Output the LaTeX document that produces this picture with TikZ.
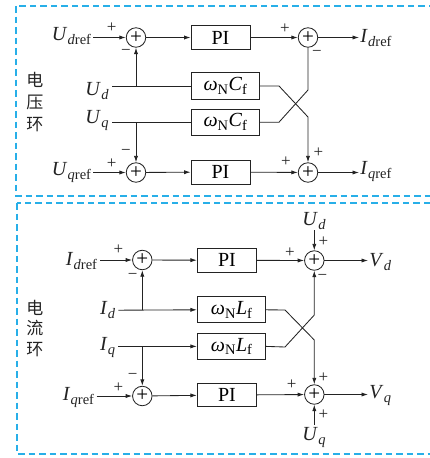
\documentclass[tikz,border=0pt]{standalone}
\usepackage{fontspec}
\setmainfont{Liberation Serif}
\newfontfamily\cjk{Noto Sans CJK SC}
\usetikzlibrary{arrows.meta}
\definecolor{framecol}{RGB}{40,175,232}
\definecolor{ink}{RGB}{35,35,35}
\newcommand\subsz{\fontsize{14.5}{14.5}\selectfont}
\newcommand\vsub[2]{\textit{#1}\kern0.3pt\raisebox{-0.45ex}{\subsz #2}}
\newcommand\wsub[2]{\textit{ω}\raisebox{-0.4ex}{\subsz N}\kern0.5pt\textit{#1}\raisebox{-0.4ex}{\subsz #2}}
\begin{document}
\begin{tikzpicture}[x=1pt,y=-1pt,
  >={Latex[length=6.5pt,width=4.2pt]},
  every path/.style={line width=0.85pt},
  conn/.style={draw=ink},
  sumnode/.style={circle,draw=ink,minimum size=19.5pt,inner sep=0pt,font=\fontsize{21}{21}\selectfont},
  blk/.style={draw=ink,rectangle,inner sep=0pt,font=\fontsize{20}{20}\selectfont},
  sgn/.style={inner sep=0pt,font=\fontsize{17}{17}\selectfont,text=ink},
  lbl/.style={inner sep=0pt,font=\fontsize{20}{20}\selectfont,text=ink},
  cjklbl/.style={inner sep=0pt,align=center,text=ink},
  frm/.style={draw=framecol,dash pattern=on 6.5pt off 4pt,line width=1.4pt}]
\useasboundingbox (0,0) rectangle (429,458);
% frames
\draw[frm] (16,6) rectangle (445,196);
\draw[frm] (17,203) rectangle (445,454);
% ===== voltage loop =====
\node[cjklbl,font=\cjk\fontsize{17}{22}\selectfont] (vl) at (35,102.5) {电\\压\\环};
\node[sumnode] (s1) at (136,37.5) {+};
\node[sumnode] (s2) at (308,37.5) {+};
\node[sumnode] (s3) at (136,172.5) {+};
\node[sumnode] (s4) at (308,172.5) {+};
\node[blk,minimum width=59pt,minimum height=24pt] (pi1) at (220.5,37.5) {PI};
\node[blk,minimum width=59pt,minimum height=24pt] (pi2) at (220.5,172) {PI};
\node[blk,minimum width=67.5pt,minimum height=26.5pt] (cf1) at (225.3,86) {\wsub{C}{f}};
\node[blk,minimum width=67.5pt,minimum height=26pt] (cf2) at (225.3,122.2) {\wsub{C}{f}};
\node[lbl,anchor=base east] (udref) at (91.5,40.5) {\vsub{U}{\textit{d}ref}};
\node[lbl,anchor=base east] (ud) at (109,95) {\vsub{U}{\textit{d}}};
\node[lbl,anchor=base east] (uq) at (109,123.5) {\vsub{U}{\textit{q}}};
\node[lbl,anchor=base east] (uqref) at (91.5,175.5) {\vsub{U}{\textit{q}ref}};
\node[lbl,anchor=base west] (idref) at (360,42.5) {\vsub{I}{\textit{d}ref}};
\node[lbl,anchor=base west] (iqref) at (360,174.5) {\vsub{I}{\textit{q}ref}};
\coordinate (udrefin) at (93,37.5);
\coordinate (udin) at (112,86);
\coordinate (uqin) at (112,122.2);
\coordinate (uqrefin) at (93,172.5);
\coordinate (ja) at (136,86);
\coordinate (jb) at (136,122.2);
\coordinate (idout) at (359,37.5);
\coordinate (iqout) at (359,172.5);
\coordinate (c1a) at (279,86);
\coordinate (c1b) at (308,117);
\coordinate (c2a) at (279,122.2);
\coordinate (c2b) at (308,90);
\draw[conn,->] (udrefin) -- (s1);
\draw[conn,->] (s1) -- (pi1);
\draw[conn,->] (pi1) -- (s2);
\draw[conn,->] (s2) -- (idout);
\draw[conn] (udin) -- (cf1.west);
\draw[conn,->] (ja) -- (s1.south);
\draw[conn] (uqin) -- (cf2.west);
\draw[conn,->] (jb) -- (s3.north);
\draw[conn,->] (uqrefin) -- (s3);
\draw[conn,->] (s3) -- (pi2);
\draw[conn,->] (pi2) -- (s4);
\draw[conn,->] (s4) -- (iqout);
\draw[conn,->] (cf1.east) -- (c1a) -- (c1b) -- (s4.north);
\draw[conn] (cf2.east) -- (c2a) -- (c2b) -- (s2.south);
\node[sgn] (p1) at (111.7,28) {+};
\node[sgn] (m1) at (126,52.5) {−};
\node[sgn] (p2) at (285,28.5) {+};
\node[sgn] (m2) at (317,53) {−};
\node[sgn] (p3) at (111.7,163.5) {+};
\node[sgn] (m3) at (126,152) {−};
\node[sgn] (p4) at (286,162) {+};
\node[sgn] (p5) at (318.5,153) {+};
% ===== current loop =====
\node[cjklbl,font=\cjk\fontsize{17}{20.5}\selectfont] (cl) at (35,328.5) {电\\流\\环};
\node[sumnode] (s5) at (142.3,260) {+};
\node[sumnode] (s6) at (314.3,260.5) {+};
\node[sumnode] (s7) at (142.3,396) {+};
\node[sumnode] (s8) at (314.3,394.5) {+};
\node[blk,minimum width=59.4pt,minimum height=24pt] (pi3) at (227,260.3) {PI};
\node[blk,minimum width=59.4pt,minimum height=23.4pt] (pi4) at (227,395) {PI};
\node[blk,minimum width=68.4pt,minimum height=26pt] (lf1) at (231.5,309.8) {\wsub{L}{f}};
\node[blk,minimum width=68.4pt,minimum height=26pt] (lf2) at (231.5,346.4) {\wsub{L}{f}};
\node[lbl,anchor=base east] (idref2) at (97.5,265) {\vsub{I}{\textit{d}ref}};
\node[lbl,anchor=base east] (id) at (115.5,314.5) {\vsub{I}{\textit{d}}};
\node[lbl,anchor=base east] (iq) at (115.5,350) {\vsub{I}{\textit{q}}};
\node[lbl,anchor=base east] (iqref2) at (94.5,400) {\vsub{I}{\textit{q}ref}};
\node[lbl,anchor=base west] (vd) at (369,266.5) {\vsub{V}{\textit{d}}};
\node[lbl,anchor=base west] (vq) at (369,398.5) {\vsub{V}{\textit{q}}};
\node[lbl,anchor=base west] (ud2) at (302,225) {\vsub{U}{\textit{d}}};
\node[lbl,anchor=base west] (uq2) at (302,440) {\vsub{U}{\textit{q}}};
\coordinate (idrefin) at (100,260);
\coordinate (idin) at (118.3,310.2);
\coordinate (iqin) at (118.3,346.4);
\coordinate (iqrefin) at (96.7,396);
\coordinate (jc) at (142.3,310.2);
\coordinate (jd) at (142.3,346.4);
\coordinate (vdout) at (368,260.5);
\coordinate (vqout) at (368,394.5);
\coordinate (udtop) at (314.3,230);
\coordinate (uqbot) at (314.3,425);
\coordinate (d1a) at (285,310);
\coordinate (d1b) at (314.3,340);
\coordinate (d2a) at (285,347);
\coordinate (d2b) at (314.3,315);
\draw[conn,->] (idrefin) -- (s5);
\draw[conn,->] (s5) -- (pi3);
\draw[conn,->] (pi3) -- (s6);
\draw[conn,->] (s6) -- (vdout);
\draw[conn,->] (idin) -- (lf1.west);
\draw[conn,->] (jc) -- (s5.south);
\draw[conn,->] (iqin) -- (lf2.west);
\draw[conn,->] (jd) -- (s7.north);
\draw[conn,->] (iqrefin) -- (s7);
\draw[conn,->] (s7) -- (pi4);
\draw[conn,->] (pi4) -- (s8);
\draw[conn,->] (s8) -- (vqout);
\draw[conn,->] (udtop) -- (s6.north);
\draw[conn,->] (uqbot) -- (s8.south);
\draw[conn,->] (lf1.east) -- (d1a) -- (d1b) -- (s8.north);
\draw[conn,->] (lf2.east) -- (d2a) -- (d2b) -- (s6.south);
\node[sgn] (p6) at (118.3,250) {+};
\node[sgn] (m4) at (132.7,276.7) {−};
\node[sgn] (p7) at (290,253) {+};
\node[sgn] (p8) at (323.5,241.7) {+};
\node[sgn] (m5) at (322.3,277.7) {−};
\node[sgn] (m6) at (132.7,376.7) {−};
\node[sgn] (p9) at (118.3,387.7) {+};
\node[sgn] (p10) at (291.7,385) {+};
\node[sgn] (p11) at (323.5,377.7) {+};
\node[sgn] (p12) at (323.5,415) {+};
\end{tikzpicture}
\end{document}
